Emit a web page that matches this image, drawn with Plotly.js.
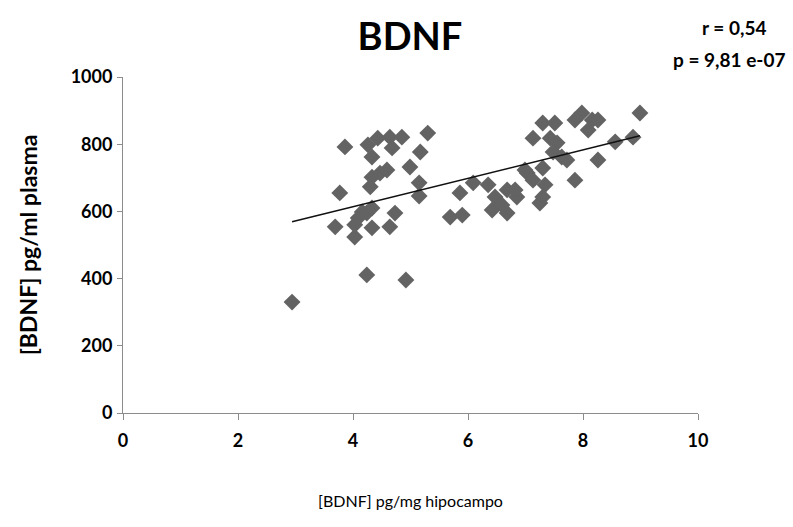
<!DOCTYPE html>
<html>
<head>
<meta charset="utf-8">
<script src="https://cdn.plot.ly/plotly-3.0.1.min.js"></script>
<style>
  html, body { margin: 0; padding: 0; background: #ffffff; }
  #chart { width: 793px; height: 527px; }
</style>
</head>
<body>
<div id="chart"></div>
<script>
// Hippocampal BDNF (pg/mg) vs plasma BDNF (pg/ml), one diamond per animal
const hipocampo = [
  2.94, 3.69, 3.77, 3.86, 4.03, 4.03, 4.09, 4.16, 4.24, 4.33,
  4.24, 4.33, 4.26, 4.30, 4.33, 4.33, 4.43, 4.47, 4.59, 4.64,
  4.68, 4.64, 4.73, 4.85, 4.92, 4.99, 5.15, 5.15, 5.17, 5.30,
  5.69, 5.86, 5.90, 6.09, 6.35, 6.42, 6.47, 6.59, 6.68, 6.68,
  6.85, 6.82, 7.25, 6.99, 7.03, 7.13, 7.30, 7.34, 7.30, 7.13,
  7.30, 7.51, 7.43, 7.55, 7.48, 7.63, 7.72, 7.86, 7.86, 7.98,
  8.16, 8.26, 8.09, 8.26, 8.56, 8.87, 8.99
];
const plasma = [
  330, 554, 655, 792, 524, 560, 580, 598, 595, 610,
  411, 551, 798, 673, 702, 762, 818, 714, 723, 821,
  789, 554, 595, 821, 396, 732, 685, 646, 777, 833,
  583, 655, 589, 685, 679, 604, 643, 619, 664, 595,
  643, 664, 625, 723, 714, 693, 729, 679, 643, 818,
  863, 863, 818, 804, 777, 762, 753, 693, 872, 893,
  872, 872, 842, 753, 807, 821, 893
];
const xTicks = [0, 2, 4, 6, 8, 10];
const yTicks = [0, 200, 400, 600, 800, 1000];
const statR = 'r = 0,54';
const statP = 'p = 9,81 e-07';

// least-squares trend line over the observed x span
const n = hipocampo.length;
const mx = hipocampo.reduce((a, b) => a + b, 0) / n;
const my = plasma.reduce((a, b) => a + b, 0) / n;
let sxy = 0, sxx = 0;
for (let i = 0; i < n; i++) {
  sxy += (hipocampo[i] - mx) * (plasma[i] - my);
  sxx += (hipocampo[i] - mx) ** 2;
}
const slope = sxy / sxx;
const intercept = my - slope * mx;
const xMin = Math.min(...hipocampo), xMax = Math.max(...hipocampo);
const trendX = [xMin, xMax];
const trendY = trendX.map(v => intercept + slope * v);

const FONT = 'Lato, "Open Sans", sans-serif';
const axisGrey = '#8c8c8c';

const traces = [
  {
    type: 'scatter', mode: 'markers',
    x: hipocampo, y: plasma,
    marker: { symbol: 'diamond', size: 13, color: '#636363', line: { width: 0 } },
    hoverinfo: 'x+y'
  },
  {
    type: 'scatter', mode: 'lines',
    x: trendX, y: trendY,
    line: { color: '#111111', width: 1.5 },
    hoverinfo: 'skip'
  }
];

const layout = {
  width: 793, height: 527,
  margin: { l: 123, r: 95, t: 77, b: 114 },
  paper_bgcolor: '#ffffff', plot_bgcolor: '#ffffff',
  showlegend: false,
  font: { family: FONT, color: '#000000', size: 16 },
  title: {
    text: '<b>BDNF</b>',
    font: { family: FONT, size: 38, color: '#000000' },
    x: 0.517, xanchor: 'center', y: 0.93, yanchor: 'middle'
  },
  xaxis: {
    range: [0, 10], tickvals: xTicks, ticktext: xTicks.map(String),
    showgrid: false, zeroline: false,
    showline: true, linecolor: axisGrey, linewidth: 1,
    ticks: 'outside', ticklen: 6, tickcolor: axisGrey,
    tickfont: { family: FONT, size: 18, color: '#000000', weight: 'bold' },
    ticklabelstandoff: 5,
    title: { text: '[BDNF] pg/mg hipocampo', font: { family: FONT, size: 16, color: '#000000' }, standoff: 46 }
  },
  yaxis: {
    range: [0, 1000], tickvals: yTicks, ticktext: yTicks.map(String),
    showgrid: false, zeroline: false,
    showline: true, linecolor: axisGrey, linewidth: 1,
    ticks: 'outside', ticklen: 5, tickcolor: axisGrey,
    tickfont: { family: FONT, size: 18, color: '#000000', weight: 'bold' },
    ticklabelstandoff: 1,
    title: { text: '<b>[BDNF] pg/ml plasma</b>', font: { family: FONT, size: 23, color: '#000000' }, standoff: 26 }
  },
  annotations: [
    { text: '<b>' + statR + '</b>', xref: 'paper', yref: 'paper', x: 1.062, y: 1.146,
      xanchor: 'center', yanchor: 'middle', showarrow: false,
      font: { family: FONT, size: 19, color: '#000000' } },
    { text: '<b>' + statP + '</b>', xref: 'paper', yref: 'paper', x: 1.054, y: 1.051,
      xanchor: 'center', yanchor: 'middle', showarrow: false,
      font: { family: FONT, size: 19, color: '#000000' } }
  ]
};

Plotly.newPlot('chart', traces, layout, { displayModeBar: false, staticPlot: true });
</script>
</body>
</html>
